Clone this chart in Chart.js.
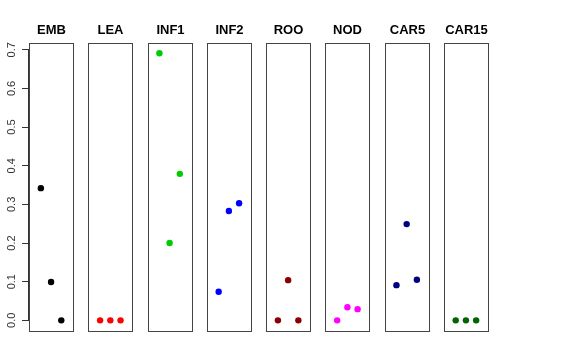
<!DOCTYPE html>
<html>
<head>
<meta charset="utf-8">
<script src="https://cdn.jsdelivr.net/npm/chart.js@4/dist/chart.umd.min.js"></script>
<style>
  body { margin: 0; background: #fff; }
</style>
</head>
<body>
<canvas id="chart" width="576" height="360"></canvas>
<script>
// panels and their three values each
var panels = ['EMB', 'LEA', 'INF1', 'INF2', 'ROO', 'NOD', 'CAR5', 'CAR15'];
var values = [
    [0.342, 0.099, 0.0],
    [0.0, 0.0, 0.0],
    [0.691, 0.200, 0.379],
    [0.074, 0.283, 0.303],
    [0.0, 0.104, 0.0],
    [0.0, 0.034, 0.029],
    [0.091, 0.249, 0.105],
    [0.0, 0.0, 0.0]
];
var colours = ['#000000', '#FF0000', '#00CD00', '#0000FF', '#8B0000', '#FF00FF', '#000080', '#006400'];
var yTicks = [0, 0.1, 0.2, 0.3, 0.4, 0.5, 0.6, 0.7];

var step = 5.8;          // distance between panel starts, in x units
var xLo = -0.16, xHi = 4.16;   // each panel spans this range around 1..3

var datasets = panels.map(function (name, i) {
    return {
        label: name,
        data: values[i].map(function (v, j) { return { x: i * step + j + 1, y: v }; }),
        backgroundColor: colours[i],
        borderColor: colours[i],
        pointRadius: 3.2,
        pointBorderWidth: 0,
        showLine: false
    };
});

// draws a box and a bold title for every panel, plus the rotated y labels
var panelBoxes = {
    id: 'panelBoxes',
    afterDatasetsDraw: function (chart) {
        var ctx = chart.ctx, xs = chart.scales.x, ys = chart.scales.y, area = chart.chartArea;
        ctx.save();
        ctx.strokeStyle = '#444';
        ctx.lineWidth = 1;
        ctx.fillStyle = '#000';
        ctx.font = 'bold 13px "Liberation Sans", Arial, sans-serif';
        ctx.textAlign = 'center';
        ctx.textBaseline = 'middle';
        panels.forEach(function (name, i) {
            var l = Math.round(xs.getPixelForValue(i * step + xLo)) + 0.5;
            var r = Math.round(xs.getPixelForValue(i * step + xHi)) + 0.5;
            ctx.strokeRect(l, Math.round(area.top) + 0.5, r - l, Math.round(area.bottom - area.top));
            ctx.fillText(name, (l + r) / 2, 30);
        });

        // y axis line from first to last tick
        var left = Math.round(area.left) - 0.5;
        ctx.strokeStyle = '#333';
        ctx.beginPath();
        ctx.moveTo(left, ys.getPixelForValue(yTicks[0]));
        ctx.lineTo(left, ys.getPixelForValue(yTicks[yTicks.length - 1]));
        ctx.stroke();

        ctx.fillStyle = '#333';
        ctx.font = '11px "Liberation Sans", Arial, sans-serif';
        yTicks.forEach(function (v) {
            ctx.save();
            ctx.translate(12, ys.getPixelForValue(v));
            ctx.rotate(-Math.PI / 2);
            ctx.fillText(v.toFixed(1), 0, 0);
            ctx.restore();
        });
        ctx.restore();
    }
};

var ctx = document.getElementById('chart').getContext('2d');
new Chart(ctx, {
    type: 'scatter',
    data: { datasets: datasets },
    options: {
        responsive: false,
        animation: false,
        layout: { padding: { top: 43, right: 88, bottom: 29, left: 0 } },
        plugins: { legend: { display: false }, tooltip: { enabled: false } },
        scales: {
            x: {
                type: 'linear',
                min: xLo,
                max: 7 * step + xHi,
                display: false
            },
            y: {
                min: -0.0276,
                max: 0.7176,
                afterFit: function (scale) { scale.width = 29; },
                afterBuildTicks: function (scale) {
                    scale.ticks = yTicks.map(function (v) { return { value: v }; });
                },
                border: { display: false },
                grid: { drawOnChartArea: false, drawTicks: true, tickLength: 7, color: '#333' },
                ticks: { display: false }
            }
        }
    },
    plugins: [panelBoxes]
});
</script>
</body>
</html>
